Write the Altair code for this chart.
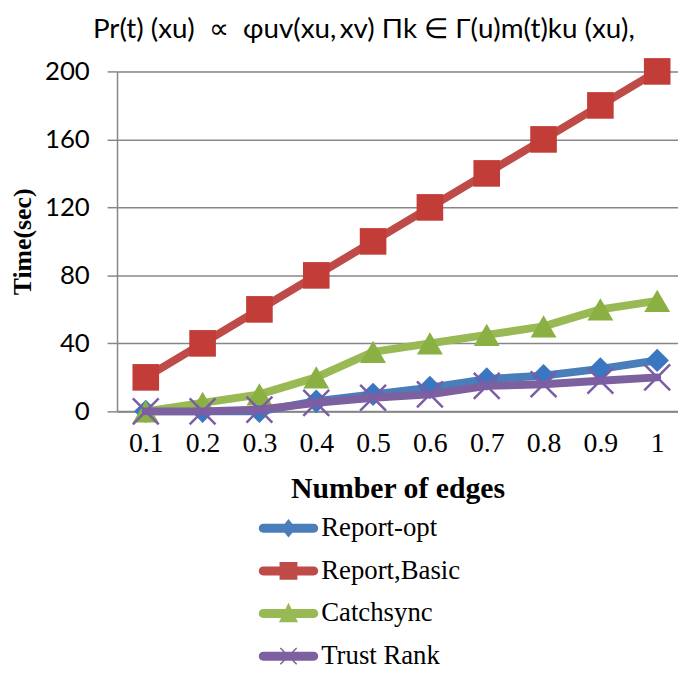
import altair as alt
import pandas as pd

x_vals = [0.1, 0.2, 0.3, 0.4, 0.5, 0.6, 0.7, 0.8, 0.9, 1.0]
series_names = ["Report-opt", "Report,Basic", "Catchsync", "Trust Rank"]
report_opt = [0, 0, 0, 6, 10, 14, 19, 21, 25, 30]
report_basic = [20, 40, 60, 80, 100, 120, 140, 160, 180, 200]
catchsync = [0, 5, 10, 20, 35, 40, 45, 50, 60, 65]
trust_rank = [0, 0, 1, 5, 8, 10, 15, 16, 18, 20]
y_ticks = [0, 40, 80, 120, 160, 200]

line_colors = ["#4A7EBB", "#BE4B48", "#98B954", "#7D60A0"]
marker_colors = ["#3B76C0", "#C23C38", "#8AB043", "#7B5DA6"]

all_values = [report_opt, report_basic, catchsync, trust_rank]
rows = []
for name, vals in zip(series_names, all_values):
    for xv, yv in zip(x_vals, vals):
        rows.append({"series": name, "x": xv, "y": yv})
df = pd.DataFrame(rows)

GRAY = "#878787"

x_enc = alt.X(
    "x:Q",
    scale=alt.Scale(domain=[0.0494, 1.0366], nice=False, zero=False),
    axis=alt.Axis(
        values=x_vals, format=".1~f", grid=False, ticks=False, tickSize=0,
        domainColor=GRAY, domainWidth=2,
        labelFont="Liberation Serif", labelFontSize=28, labelColor="black",
        labelPadding=18, labelFlush=False,
        title="Number of edges", titleFont="Liberation Serif", titleFontSize=30,
        titleFontWeight="bold", titleColor="black", titlePadding=17,
    ),
)
y_enc = alt.Y(
    "y:Q",
    scale=alt.Scale(domain=[0, 200], nice=False),
    axis=alt.Axis(
        values=y_ticks, grid=True, gridColor=GRAY, gridWidth=1.5,
        domainColor=GRAY, domainWidth=1.5, tickColor=GRAY, tickWidth=1.5, tickSize=10,
        labelFont="Lato", labelFontSize=26, labelColor="black", labelPadding=18,
        title="Time(sec)", titleFont="Liberation Serif", titleFontSize=26,
        titleFontWeight="bold", titleColor="black", titlePadding=9,
    ),
)

base = alt.Chart(df)

marker_specs = [
    dict(shape="diamond", size=560, filled=True),
    dict(shape="square", size=720, filled=True),
    dict(shape="triangle-up", size=680, filled=True),
    dict(shape="M-1,-1L1,1M-1,1L1,-1", size=680, filled=False, strokeWidth=2.5),
]

layers = []
for name, lc, mc, ms in zip(series_names, line_colors, marker_colors, marker_specs):
    sub = base.transform_filter(alt.datum.series == name)
    line = sub.mark_line(strokeWidth=8, strokeCap="round", strokeJoin="round", color=lc).encode(
        x=x_enc, y=y_enc
    )
    pt_kwargs = dict(shape=ms["shape"], size=ms["size"], filled=ms["filled"], opacity=1, color=mc)
    if "strokeWidth" in ms:
        pt_kwargs["strokeWidth"] = ms["strokeWidth"]
    else:
        pt_kwargs["strokeWidth"] = 0
    pts = sub.mark_point(**pt_kwargs).encode(x=x_enc, y=y_enc)
    layers += [line, pts]

# legend symbols: thick line segment with marker (unit path coordinates)
bar = "M-1.7,-0.3H1.7A0.3,0.3 0 0 1 1.7,0.3H-1.7A0.3,0.3 0 0 1 -1.7,-0.3Z"
legend_paths = [
    bar + "M0,-0.62L0.5,0L0,0.62L-0.5,0Z",
    bar + "M-0.6,-0.6H0.6V0.6H-0.6Z",
    bar + "M0,-0.72L0.64,0.58L-0.64,0.58Z",
    bar + "M-0.515,-0.585L0.585,0.515L0.515,0.585L-0.585,-0.515Z"
          "M-0.585,0.515L0.515,-0.585L0.585,-0.515L-0.515,0.585Z",
]

leg = alt.Legend(
    title=None, orient="none", legendX=158, legendY=446, direction="vertical",
    symbolSize=900, symbolStrokeWidth=0, symbolOpacity=1,
    labelFont="Liberation Serif", labelFontSize=27, labelColor="black",
    labelOffset=18, rowPadding=15, padding=0, labelLimit=400,
)
legend_layer = base.transform_filter("datum.y < -1000").mark_point(
    filled=True, opacity=1, strokeWidth=0
).encode(
    x=x_enc, y=y_enc,
    color=alt.Color("series:N", scale=alt.Scale(domain=series_names, range=line_colors), legend=leg),
    shape=alt.Shape("series:N", scale=alt.Scale(domain=series_names, range=legend_paths), legend=leg),
)

title_text = "Pr(t) (xu)\u00a0 \u221d\u00a0 \u03c6uv(xu,\u2009xv) \u03a0k \u2208 \u0393(u)m(t)ku (xu),"

chart = alt.layer(*layers, legend_layer).properties(
    width=566,
    height=343,
    autosize=alt.AutoSizeParams(type="none"),
    padding={"left": 110, "top": 61, "right": 0, "bottom": 262},
    title=alt.TitleParams(
        text=title_text, font="Lato", fontSize=28, fontWeight="normal", color="black",
        anchor="middle", dx=-34, offset=14,
    ),
).configure_view(stroke=None).configure(background="white")

chart.save("out.html", embed_options={"renderer": "svg", "actions": False})
